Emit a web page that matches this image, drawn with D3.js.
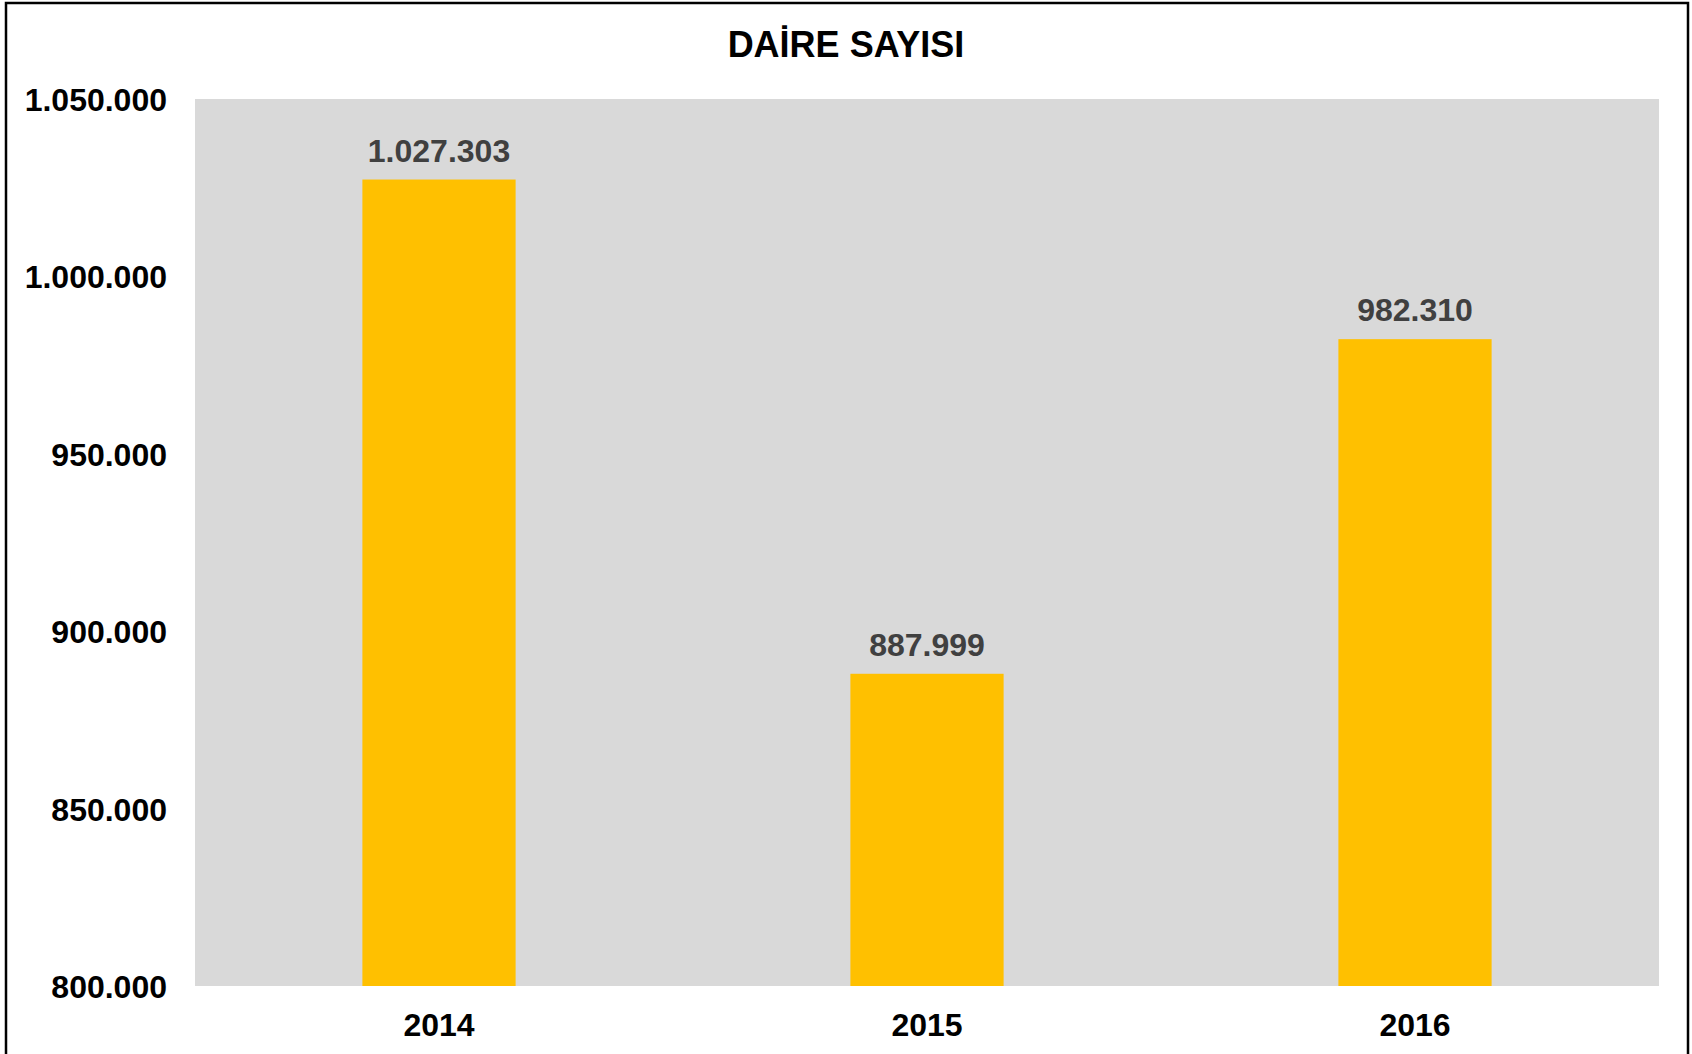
<!DOCTYPE html>
<html>
<head>
<meta charset="utf-8">
<script src="https://cdn.jsdelivr.net/npm/d3@7"></script>
<style>
  body { margin: 0; background: #fff; }
  svg { display: block; font-family: "Liberation Sans", Arial, sans-serif; }
</style>
</head>
<body>
<div id="chart"></div>
<script>
// data
var years = ["2014", "2015", "2016"];
var daireSayisi = [1027303, 887999, 982310];
var yTicks = [800000, 850000, 900000, 950000, 1000000, 1050000];
var chartTitle = "DAİRE SAYISI";

var W = 1692, H = 1054;
var margin = {top: 99, right: 33, bottom: 68, left: 195},
    width = W - margin.left - margin.right,
    height = H - margin.top - margin.bottom;

var svg = d3.select("#chart").append("svg")
    .attr("width", W)
    .attr("height", H);

// outer frame (bottom edge falls outside the picture)
svg.append("rect")
    .attr("x", 6).attr("y", 3)
    .attr("width", 1682).attr("height", 1070)
    .attr("fill", "none")
    .attr("stroke", "#000")
    .attr("stroke-width", 2.5);

svg.append("text")
    .attr("x", W / 2)
    .attr("y", 57)
    .attr("text-anchor", "middle")
    .attr("font-size", 36)
    .attr("font-weight", "bold")
    .attr("fill", "#000")
    .text(chartTitle);

var g = svg.append("g")
    .attr("transform", "translate(" + margin.left + "," + margin.top + ")");

// scales
var x = d3.scaleBand()
    .domain(years)
    .range([0, width])
    .paddingInner(0.686)
    .paddingOuter(0.343);

var y = d3.scaleLinear()
    .domain([800000, 1050000])
    .range([height, 0]);

var fmt = function(v) { return d3.format(",")(v).replace(/,/g, "."); };

// plot background
g.append("rect")
    .attr("width", width)
    .attr("height", height)
    .attr("fill", "#d9d9d9");

// bars
g.selectAll(".bar")
    .data(daireSayisi)
    .enter().append("rect")
    .attr("class", "bar")
    .attr("x", function(d, i) { return x(years[i]); })
    .attr("y", function(d) { return y(d); })
    .attr("width", x.bandwidth())
    .attr("height", function(d) { return height - y(d); })
    .attr("fill", "#ffc000");

// value labels
g.selectAll(".lbl")
    .data(daireSayisi)
    .enter().append("text")
    .attr("class", "lbl")
    .attr("x", function(d, i) { return x(years[i]) + x.bandwidth() / 2; })
    .attr("y", function(d) { return y(d) - 18; })
    .attr("text-anchor", "middle")
    .attr("font-size", 32)
    .attr("font-weight", "bold")
    .attr("fill", "#404040")
    .text(function(d) { return fmt(d); });

// Y axis
var yAxis = g.append("g")
    .call(d3.axisLeft(y).tickValues(yTicks).tickSize(0).tickPadding(28).tickFormat(fmt));
yAxis.select(".domain").remove();
yAxis.selectAll("text")
    .attr("font-size", 32)
    .attr("font-weight", "bold")
    .attr("fill", "#000")
    .attr("dy", "0.36em")
    .style("font-family", "'Liberation Sans', Arial, sans-serif");

// X axis
var xAxis = g.append("g")
    .attr("transform", "translate(0," + height + ")")
    .call(d3.axisBottom(x).tickSize(0).tickPadding(27));
xAxis.select(".domain").remove();
xAxis.selectAll("text")
    .attr("font-size", 32)
    .attr("font-weight", "bold")
    .attr("fill", "#000")
    .attr("dy", "0.71em")
    .style("font-family", "'Liberation Sans', Arial, sans-serif");
</script>
</body>
</html>
